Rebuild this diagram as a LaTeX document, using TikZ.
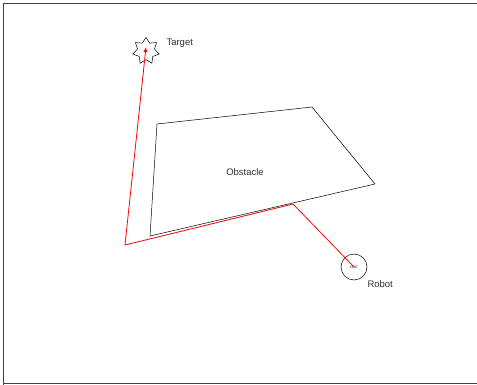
\documentclass[tikz,border=0pt]{standalone}
\usepackage{fontspec}
\setmainfont{Liberation Sans}
\usetikzlibrary{shapes.geometric,arrows.meta}
\begin{document}
\begin{tikzpicture}[x=1pt, y=-1pt, font=\fontsize{9.5}{11}\selectfont, text=black!80]
  \useasboundingbox (0,0) rectangle (477,385);
  \draw[black!75, line width=0.8pt] (3.5,480) |- (3.5,3.5) -- (480,3.5);
  \draw[black!75, line width=0.8pt] (3.5,383) -- (480,383);
  % obstacle
  \coordinate (o1) at (157,124);
  \coordinate (o2) at (312,107);
  \coordinate (o3) at (375,184);
  \coordinate (o4) at (150,236);
  \draw[line width=0.5pt] (o1) -- (o2) -- (o3) -- (o4) -- cycle;
  \node (obstacle) at (245,172) {Obstacle};
  % target and robot
  \node[star, star points=7, star point ratio=1.55, draw, line width=0.5pt, minimum size=27pt, inner sep=0pt] (target) at (146,51) {};
  \node[right] (targetlabel) at (163,43) {Target};
  \node[circle, draw, line width=0.5pt, minimum size=26pt, inner sep=0pt, font=\fontsize{4.5}{5}\selectfont] (robot) at (354,267) {text};
  \node[right] (robotlabel) at (364,284) {Robot};
  % path
  \coordinate (hit) at (293,204);
  \coordinate (corner) at (125,245);
  \draw[red, line width=0.8pt, -{Latex[length=5pt,width=4pt]}] (robot.center) -- (hit) -- (corner) -- ([yshift=4pt]target.center);
\end{tikzpicture}
\end{document}
